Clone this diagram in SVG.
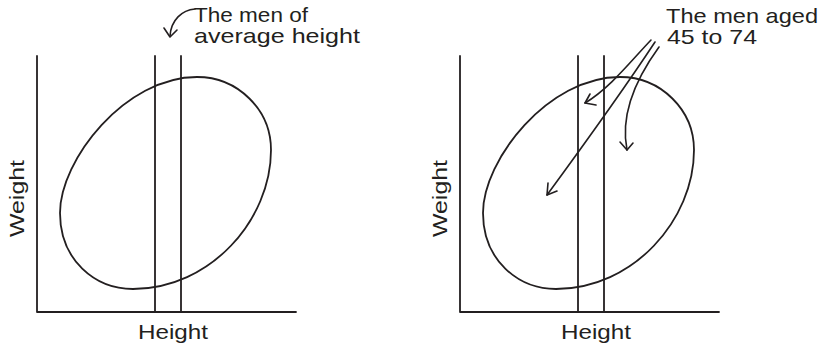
<svg xmlns="http://www.w3.org/2000/svg" width="823" height="348" viewBox="0 0 823 348">
<style>
.ln{fill:none;stroke:#231f20;stroke-width:1.8;stroke-linecap:round;stroke-linejoin:round}
.ar{fill:none;stroke:#231f20;stroke-width:1.6;stroke-linecap:round;stroke-linejoin:round}
.tx{font-family:"Liberation Sans","DejaVu Sans",sans-serif;font-size:21px;fill:#231f20}
</style>
<defs>
<g id="panel">
<path class="ln" d="M37,56 V312 H296"/>
<path class="ln" d="M155,56 V312 M181,56 V312"/>
<path class="ln" d="M197,77 C238,77 271,110 271,150 C271,220 210,289 133,289 C95,289 60,260 60,213 C60,160 125,77 197,77 Z"/>
<text class="tx" x="138" y="339" textLength="70" lengthAdjust="spacingAndGlyphs">Height</text>
<text class="tx" transform="translate(24,237) rotate(-90)" textLength="77" lengthAdjust="spacingAndGlyphs">Weight</text>
</g>
</defs>
<g id="left-chart"><use href="#panel"/></g>
<g id="right-chart"><use href="#panel" transform="translate(423,0)"/></g>
<g id="left-label">
<text class="tx" x="194" y="22" textLength="114" lengthAdjust="spacingAndGlyphs">The men of</text>
<text class="tx" x="194" y="43" textLength="166" lengthAdjust="spacingAndGlyphs">average height</text>
</g>
<g id="right-label">
<text class="tx" x="666" y="23" textLength="152" lengthAdjust="spacingAndGlyphs">The men aged</text>
<text class="tx" x="667" y="44" textLength="90" lengthAdjust="spacingAndGlyphs">45 to 74</text>
</g>
<g id="connectors">
<path class="ar" d="M195,9 C182,10 171,20 170,36"/>
<path class="ar" d="M164,28 L170,37 L177,30"/>
<path class="ar" d="M651,40 C630,62 610,88 585,103"/>
<path class="ar" d="M590,94 L585,103 L596,105"/>
<path class="ar" d="M655,42 C630,80 580,150 547,195"/>
<path class="ar" d="M548,183 L547,195 L557,191"/>
<path class="ar" d="M659,47 C635,80 620,115 627,150"/>
<path class="ar" d="M620,142 L627,150 L633,143"/>
</g>
</svg>
